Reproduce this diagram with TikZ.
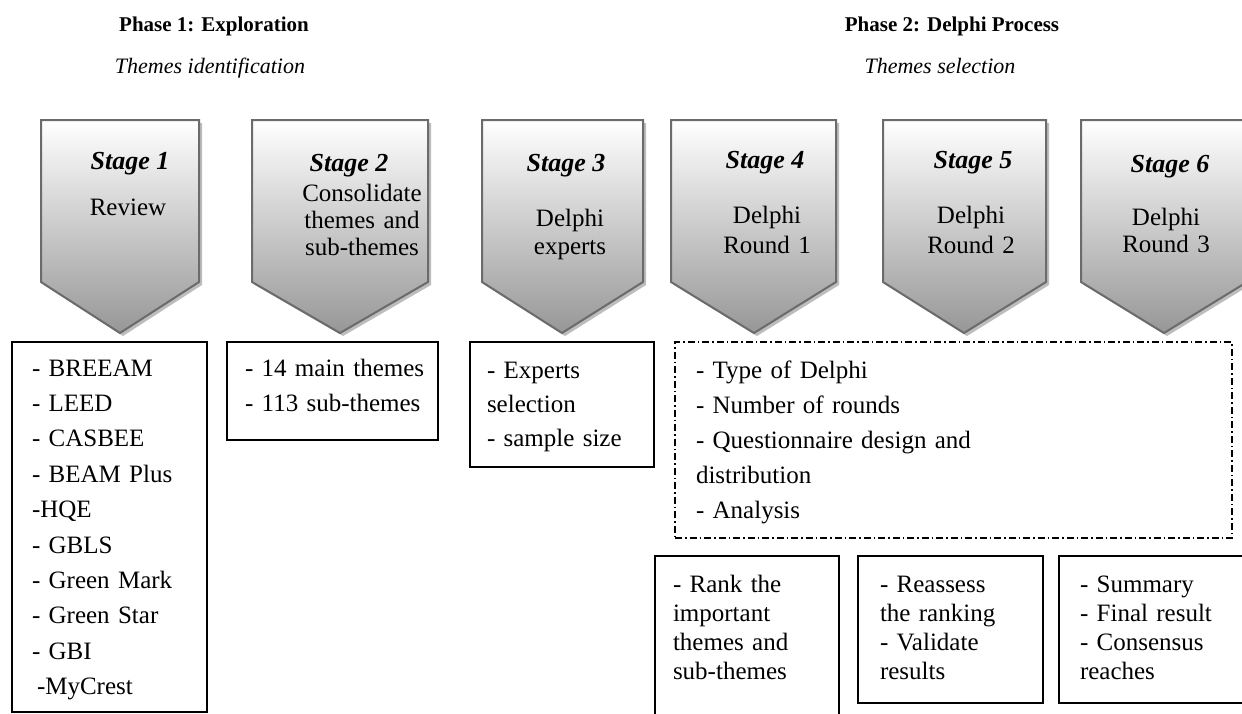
\documentclass[tikz,border=0pt]{standalone}
\usepackage{fontspec}
\setmainfont{Liberation Serif}
\definecolor{stagegray}{HTML}{979797}
\definecolor{stageborder}{HTML}{6B6B6B}
\definecolor{shadowgray}{HTML}{BDBDBD}
% pentagon arrow pointing down: left edge, right edge, tip x
\newcommand\stageshape[3]{%
  \fill[shadowgray, shift={(3,3)}] (#1,120) -- (#2,120) -- (#2,282) -- (#3,333) -- (#1,282) -- cycle;
  \shade[top color=white, bottom color=stagegray] (#1,120) -- (#2,120) -- (#2,282) -- (#3,333) -- (#1,282) -- cycle;
  \draw[stageborder, line width=2pt, line join=miter] (#1,120) -- (#2,120) -- (#2,282) -- (#3,333) -- (#1,282) -- cycle;
}
\begin{document}
\begin{tikzpicture}[x=1pt, y=-1pt,
  every node/.style={inner sep=0pt, outer sep=0pt},
  title/.style={font=\fontsize{21}{25}\selectfont\bfseries, anchor=base},
  subtitle/.style={font=\fontsize{22}{26}\selectfont\itshape, anchor=base},
  stagelabel/.style={font=\fontsize{26}{30}\selectfont\bfseries\itshape, anchor=base},
  stagebody/.style={font=\fontsize{25}{28.5}\selectfont, anchor=base, align=center, text width=170pt},
  listbox/.style={draw=black, line width=1.3pt, fill=none},
  dashbox/.style={draw=black, line width=1.2pt, dash pattern=on 7pt off 3pt on 1.5pt off 3pt},
  listtext/.style={font=\fontsize{25}{35.4}\selectfont, anchor=base west, align=left, text width=330pt},
]
\useasboundingbox (0,0) rectangle (1242,713);
\clip (0,0) rectangle (1242,713);
\fill[white] (0,0) rectangle (1242,713);

% phase headings
\node[title] (ph1) at (214,31) {Phase 1: Exploration};
\node[subtitle] (th1) at (210,73) {Themes identification};
\node[title] (ph2) at (952,31) {Phase 2: Delphi Process};
\node[subtitle] (th2) at (940,73) {Themes selection};

% stage arrows
\stageshape{41}{199}{120}
\stageshape{252}{428}{340}
\stageshape{482}{643}{562}
\stageshape{671}{836}{754}
\stageshape{883}{1046}{964}
\stageshape{1081}{1247}{1164}

% stage captions
\node[stagelabel] (s1) at (130,169) {Stage 1};
\node[stagebody] (s1b) at (128,215) {Review};
\node[stagelabel] (s2) at (349,171) {Stage 2};
\node[stagebody, font=\fontsize{25}{27}\selectfont] (s2b) at (362,201) {Consolidate\\themes and\\sub-themes};
\node[stagelabel] (s3) at (566,171) {Stage 3};
\node[stagebody] (s3b) at (570,226) {Delphi\\experts};
\node[stagelabel] (s4) at (765,168) {Stage 4};
\node[stagebody, font=\fontsize{25}{30}\selectfont] (s4b) at (767,223) {Delphi\\Round 1};
\node[stagelabel] (s5) at (973,168) {Stage 5};
\node[stagebody, font=\fontsize{25}{30}\selectfont] (s5b) at (971,223) {Delphi\\Round 2};
\node[stagelabel] (s6) at (1170,172) {Stage 6};
\node[stagebody, font=\fontsize{25}{27}\selectfont] (s6b) at (1166,225) {Delphi\\Round 3};

% content boxes
\node[listbox, minimum width=195, minimum height=370] (b1) at (109.5,527) {};
\node[listtext] (b1t) at (32,376) {- BREEAM\\- LEED\\- CASBEE\\- BEAM Plus\\-HQE\\- GBLS\\- Green Mark\\- Green Star\\- GBI\\\hspace{5pt}-MyCrest};

\node[listbox, minimum width=211, minimum height=98] (b2) at (332.5,391) {};
\node[listtext, font=\fontsize{25}{35}\selectfont] (b2t) at (245,376) {- 14 main themes\\- 113 sub-themes};

\node[listbox, minimum width=184, minimum height=125] (b3) at (562,404.5) {};
\node[listtext, font=\fontsize{25}{34}\selectfont] (b3t) at (487,378) {- Experts\\selection\\- sample size};

\node[dashbox, minimum width=557, minimum height=196] (b4) at (953.5,440) {};
\node[listtext, font=\fontsize{25}{35}\selectfont] (b4t) at (696,378) {- Type of Delphi\\- Number of rounds\\- Questionnaire design and\\distribution\\- Analysis};

\node[listbox, minimum width=184, minimum height=170] (r1) at (747,641) {};
\node[listtext, font=\fontsize{25}{29.3}\selectfont] (r1t) at (673,592) {- Rank the\\important\\themes and\\sub-themes};

\node[listbox, minimum width=185, minimum height=147] (r2) at (950.5,629.5) {};
\node[listtext, font=\fontsize{25}{29.3}\selectfont] (r2t) at (880,592) {- Reassess\\the ranking\\- Validate\\results};

\node[listbox, minimum width=200, minimum height=147] (r3) at (1159,629.5) {};
\node[listtext, font=\fontsize{25}{29.3}\selectfont] (r3t) at (1080,592) {- Summary\\- Final result\\- Consensus\\reaches};
\end{tikzpicture}
\end{document}
